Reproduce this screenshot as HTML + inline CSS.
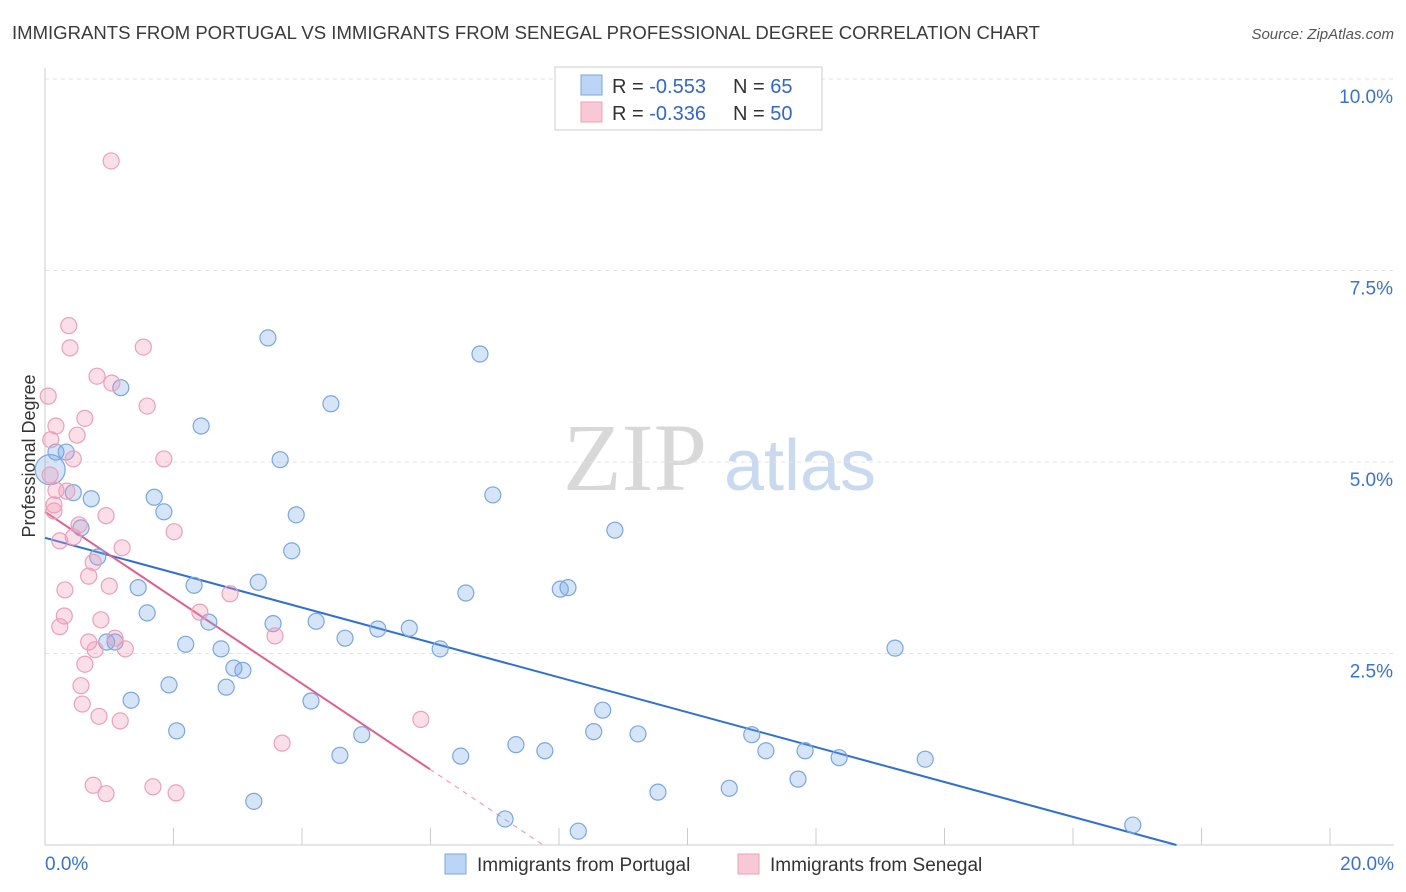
<!DOCTYPE html>
<html><head><meta charset="utf-8">
<style>
body{margin:0;background:#fff;font-family:"Liberation Sans",sans-serif;}
svg{display:block}
</style></head>
<body>
<svg id="chart" width="1406" height="892" xmlns="http://www.w3.org/2000/svg">
<text x="12" y="39" font-size="18" fill="#3a3a3a" textLength="1028" lengthAdjust="spacingAndGlyphs">IMMIGRANTS FROM PORTUGAL VS IMMIGRANTS FROM SENEGAL PROFESSIONAL DEGREE CORRELATION CHART</text>
<text x="1394" y="39" font-size="15" fill="#555" font-style="italic" text-anchor="end">Source: ZipAtlas.com</text>
<text x="35" y="456" font-size="18" fill="#333" text-anchor="middle" transform="rotate(-90 35 456)">Professional Degree</text>
<g>
<text x="635" y="490" font-size="96" fill="#d8d8d8" font-family="Liberation Serif,serif" text-anchor="middle">ZIP</text>
<text x="800" y="490" font-size="72" fill="#c8d9f0" text-anchor="middle">atlas</text>
</g>
<g id="grid"></g><g id="axes"></g><g id="lines"></g><g id="points"></g>
<g>
<rect x="555" y="67" width="267" height="63" fill="#fff" stroke="#ccc"/>
<rect x="581" y="75" width="21" height="20" fill="#bcd4f5" stroke="#7aa7e0"/>
<text x="612" y="93" font-size="20" fill="#333">R = <tspan fill="#3366cc">-0.553</tspan></text>
<text x="733" y="93" font-size="20" fill="#333">N = <tspan fill="#3366cc">65</tspan></text>
<rect x="581" y="102" width="21" height="20" fill="#f8c8d6" stroke="#eca0b8"/>
<text x="612" y="120" font-size="20" fill="#333">R = <tspan fill="#3366cc">-0.336</tspan></text>
<text x="733" y="120" font-size="20" fill="#333">N = <tspan fill="#3366cc">50</tspan></text>
</g>
<g>
<rect x="445" y="854" width="21" height="20" fill="#bcd4f5" stroke="#7aa7e0"/>
<text x="477" y="871" font-size="19" fill="#333">Immigrants from Portugal</text>
<rect x="738" y="854" width="21" height="20" fill="#f8c8d6" stroke="#eca0b8"/>
<text x="770" y="871" font-size="19" fill="#333">Immigrants from Senegal</text>
</g>
</svg>
<script>
const portugalX=[3.47,6.77,1.18,4.45,2.43,0.17,0.33,3.66,0.44,0.72,1.70,6.97,1.85,3.91,0.56,8.87,3.84,0.82,1.45,2.32,3.32,6.55,8.02,8.14,1.59,2.55,3.55,4.22,4.67,5.18,5.67,0.96,1.09,2.19,2.74,6.15,13.23,2.94,3.08,1.93,2.82,1.34,4.14,8.68,2.05,4.93,8.54,9.23,11.00,7.33,7.78,11.22,11.83,12.36,13.70,4.59,6.47,11.72,10.65,9.54,3.25,7.16,8.30,16.93,0.08];
const portugalY=[6.62,6.41,5.97,5.76,5.47,5.13,5.13,5.03,4.60,4.52,4.54,4.57,4.35,4.31,4.14,4.11,3.84,3.76,3.36,3.39,3.43,3.29,3.34,3.36,3.03,2.91,2.89,2.92,2.70,2.82,2.83,2.65,2.65,2.62,2.56,2.56,2.57,2.31,2.28,2.09,2.06,1.89,1.88,1.76,1.49,1.44,1.48,1.45,1.44,1.31,1.23,1.23,1.23,1.14,1.12,1.17,1.16,0.86,0.74,0.69,0.57,0.34,0.18,0.26,4.90];
const senegalX=[1.03,0.37,0.39,1.53,0.81,1.04,0.05,1.59,0.17,0.62,0.50,0.09,0.44,1.85,0.08,0.17,0.34,0.14,0.14,0.95,0.53,2.01,0.23,0.44,1.20,0.75,0.68,1.00,0.31,2.88,2.41,0.30,0.87,0.23,0.68,1.09,3.58,0.78,1.25,0.62,0.56,0.58,0.84,1.17,5.85,3.69,0.75,0.95,1.68,2.04];
const senegalY=[8.93,6.78,6.49,6.50,6.12,6.03,5.86,5.73,5.47,5.57,5.35,5.29,5.04,5.04,4.83,4.63,4.62,4.44,4.36,4.30,4.18,4.09,3.97,4.02,3.88,3.69,3.51,3.38,3.33,3.28,3.04,2.99,2.94,2.85,2.65,2.70,2.73,2.55,2.56,2.36,2.08,1.84,1.68,1.62,1.64,1.33,0.78,0.67,0.76,0.68];
const yTicks=[2.5,5.0,7.5,10.0];
const yTickLabels=["2.5%","5.0%","7.5%","10.0%"];
const xTicks=[0,2,4,6,8,10,12,14,16,18,20];
const portugalTrend=[4.01,-0.2277]; // intercept, slope
const senegalTrend=[4.35,-0.561];
const senegalSolidEnd=5.99;

const NS="http://www.w3.org/2000/svg";
const X=v=>45+v*64.25, Y=v=>845-v*76.6;
function mk(tag,attrs,parent){const e=document.createElementNS(NS,tag);for(const k in attrs)e.setAttribute(k,attrs[k]);document.getElementById(parent).appendChild(e);return e;}
yTicks.forEach((t,i)=>{
 const g=mk('line',{x1:45,x2:1394,y1:Y(t),y2:Y(t),stroke:'#e3e3e3','stroke-dasharray':'4,4'},'grid');
 
 
 const l=mk('text',{x:1393,y:Y(t)+24,'font-size':19,fill:'#3a72d0','text-anchor':'end'},'grid');
 l.textContent=yTickLabels[i];
 
 
});
const ax=mk('line',{x1:45,x2:45,y1:68,y2:845,stroke:'#ccc'},'axes');


const bx=mk('line',{x1:45,x2:1394,y1:845,y2:845,stroke:'#ccc'},'axes');


xTicks.forEach(t=>{
 const e=mk('line',{x1:X(t),x2:X(t),y1:828,y2:845,stroke:'#ccc'},'axes');
 
 
});
const x0=mk('text',{x:45,y:870,'font-size':19,fill:'#3a72d0'},'axes');x0.textContent='0.0%';


const x1=mk('text',{x:1394,y:870,'font-size':19,fill:'#3a72d0','text-anchor':'end'},'axes');x1.textContent='20.0%';



function dots(xs,ys,fill,stroke,name){
 xs.forEach((x,i)=>{
  const c=mk('circle',{cx:X(x),cy:Y(ys[i]),r:(i===xs.length-1&&name==='portugal-point')?15:8,fill:fill,stroke:stroke,'stroke-width':1.2},'points');
  
  
 });
}
dots(portugalX,portugalY,'rgba(120,165,230,0.3)','#7aa7e0','portugal-point');
dots(senegalX,senegalY,'rgba(240,150,180,0.3)','#eca0b8','senegal-point');

const bEnd=-portugalTrend[0]/portugalTrend[1];
const bl=mk('line',{x1:X(0),y1:Y(portugalTrend[0]),x2:X(bEnd),y2:Y(0),stroke:'#2f6fd6','stroke-width':2},'lines');


const sy=v=>senegalTrend[0]+senegalTrend[1]*v;
const pl=mk('line',{x1:X(0),y1:Y(sy(0)),x2:X(senegalSolidEnd),y2:Y(sy(senegalSolidEnd)),stroke:'#e0608a','stroke-width':2},'lines');


const sEnd=-senegalTrend[0]/senegalTrend[1];
const pd=mk('line',{x1:X(senegalSolidEnd),y1:Y(sy(senegalSolidEnd)),x2:X(sEnd),y2:Y(0),stroke:'#eca0b8','stroke-width':1.2,'stroke-dasharray':'5,5'},'lines');


</script>
</body></html>
